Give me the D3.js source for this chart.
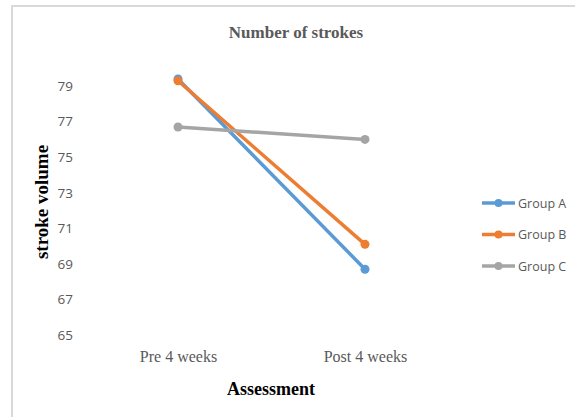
<!DOCTYPE html>
<html>
<head>
<meta charset="utf-8">
<script src="https://cdn.jsdelivr.net/npm/d3@7"></script>
<style>
  html, body { margin: 0; padding: 0; background: #fff; }
  svg { display: block; }
</style>
</head>
<body>
<svg id="chart" width="575" height="417"></svg>
<script>
// Assessment points and the three groups' stroke volumes
const categories = ["Pre 4 weeks", "Post 4 weeks"];
const seriesNames = ["Group A", "Group B", "Group C"];
const groupA = [79.4, 68.7];
const groupB = [79.3, 70.1];
const groupC = [76.7, 76.0];
const yTicks = [65, 67, 69, 71, 73, 75, 77, 79];
const colors = ["#5B9BD5", "#ED7D31", "#A5A5A5"];

const series = [groupA, groupB, groupC].map((vals, i) => ({
  name: seriesNames[i],
  color: colors[i],
  points: vals.map((v, j) => ({ cat: categories[j], value: v }))
}));

const svg = d3.select("#chart");
const serif = "'Liberation Serif', 'Times New Roman', serif";
const sans = "'Liberation Sans Narrow', 'Open Sans', sans-serif";

// chart frame (top and left edges visible)
svg.append("path")
  .attr("d", "M12,417 L12,6 L575,6")
  .attr("fill", "none")
  .attr("stroke", "#d9d9d9")
  .attr("stroke-width", 2);

const x = d3.scalePoint().domain(categories).range([84.5, 458.5]).padding(0.5);
const y = d3.scaleLinear().domain([65, 81]).range([335, 50.5]);

// title
svg.append("text")
  .attr("x", 296).attr("y", 38)
  .attr("text-anchor", "middle")
  .attr("font-family", serif).attr("font-weight", "bold")
  .attr("font-size", 17).attr("fill", "#595959")
  .text("Number of strokes");

// y axis (labels only)
const yAxis = svg.append("g")
  .attr("transform", "translate(73,0)")
  .call(d3.axisLeft(y).tickValues(yTicks).tickSize(0).tickPadding(0).tickFormat(d3.format("d")));
yAxis.select(".domain").remove();
yAxis.selectAll("text")
  .attr("font-family", sans).attr("font-size", 13.5).attr("fill", "#595959");

// x axis (labels only)
const xAxis = svg.append("g")
  .attr("transform", "translate(0,0)")
  .call(d3.axisBottom(x).tickSize(0).tickPadding(0));
xAxis.select(".domain").remove();
xAxis.selectAll("text")
  .attr("y", 362).attr("dy", null)
  .attr("font-family", serif).attr("font-size", 16).attr("fill", "#595959");

// axis titles
svg.append("text")
  .attr("x", 271).attr("y", 395)
  .attr("text-anchor", "middle")
  .attr("font-family", serif).attr("font-weight", "bold")
  .attr("font-size", 18).attr("fill", "#000")
  .text("Assessment");

svg.append("text")
  .attr("transform", "translate(48,202) rotate(-90)")
  .attr("text-anchor", "middle")
  .attr("font-family", serif).attr("font-weight", "bold")
  .attr("font-size", 19).attr("fill", "#000")
  .text("stroke volume");

// lines and markers
const line = d3.line().x(d => x(d.cat)).y(d => y(d.value));
const g = svg.append("g");
series.forEach(s => {
  g.append("path")
    .datum(s.points)
    .attr("d", line)
    .attr("fill", "none")
    .attr("stroke", s.color)
    .attr("stroke-width", 3.5)
    .attr("stroke-linecap", "round");
  g.selectAll(null)
    .data(s.points)
    .enter().append("circle")
    .attr("cx", d => x(d.cat))
    .attr("cy", d => y(d.value))
    .attr("r", 4.5)
    .attr("fill", s.color);
});

// legend
const legend = svg.append("g");
series.forEach((s, i) => {
  const ly = 203 + i * 31.5;
  legend.append("line")
    .attr("x1", 482).attr("x2", 515).attr("y1", ly).attr("y2", ly)
    .attr("stroke", s.color).attr("stroke-width", 3.5);
  legend.append("circle")
    .attr("cx", 498.5).attr("cy", ly).attr("r", 4)
    .attr("fill", s.color);
  legend.append("text")
    .attr("x", 518).attr("y", ly + 4.5)
    .attr("font-family", sans).attr("font-size", 12.5).attr("fill", "#595959")
    .text(s.name);
});
</script>
</body>
</html>
